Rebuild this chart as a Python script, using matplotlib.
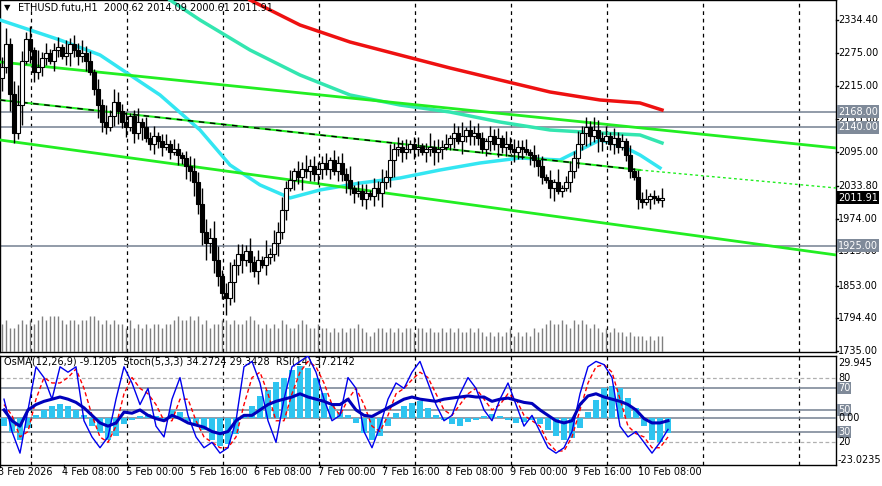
import numpy as np
import matplotlib
matplotlib.use("Agg")
import matplotlib.pyplot as plt
from matplotlib.patches import Rectangle

W, H = 882, 486
# ---------------- data ----------------
closes = [2250,2290,2200,2130,2180,2260,2300,2280,2240,2250,
          2265,2275,2260,2280,2285,2270,2275,2290,2280,2270,
          2275,2260,2240,2210,2180,2150,2140,2160,2185,2170,
          2150,2140,2160,2130,2150,2140,2120,2110,2125,2115,
          2105,2110,2095,2100,2090,2085,2070,2060,2040,2000,
          1950,1930,1940,1900,1870,1840,1830,1860,1890,1910,
          1900,1915,1895,1880,1900,1890,1905,1910,1930,1950,
          1990,2030,2045,2060,2050,2065,2060,2070,2055,2065,
          2075,2065,2080,2060,2075,2055,2045,2030,2020,2025,
          2010,2020,2015,2030,2020,2040,2050,2080,2100,2105,
          2095,2100,2110,2100,2105,2095,2100,2105,2095,2100,
          2105,2110,2120,2130,2115,2125,2135,2125,2130,2120,
          2100,2115,2125,2110,2120,2105,2110,2100,2095,2105,
          2100,2095,2090,2080,2070,2050,2045,2030,2040,2025,
          2030,2040,2060,2085,2110,2130,2140,2125,2135,2120,
          2115,2125,2110,2120,2105,2115,2090,2060,2050,2010,
          2005,2010,2015,2012,2008,2011.91]
first_open = 2230
wick_up = "3524632415231231423242313252432312413231231321234354354236233242315243423132423223132324132313242523231231242323132413232132314232231323131412324232432313221312231213"
wick_dn = "4253261432321321342323124321342313241232312132434345343252634232413224231324232332313242312313242352321321324331231423321232423132313232134121323243243123212213213212"
volume = "7866787878989998788788998787877686767677677898898978677887877898767676876678766766565656676545665656566566565565656556565454545645454656787787687876765656554544434344"

# moving averages (bar index, price)
ma200_x = [62.5,75,87.5,100,112.5,125,137.5,150,160,165.5]
ma200_y = [2370.6,2325.3,2294.5,2270.9,2247.4,2225.6,2203.9,2189.4,2184.0,2171.3]
ma144_x = [42.5,50,62.5,75,87.5,100,112.5,125,137.5,150,160,165.5]
ma144_y = [2370.6,2334.4,2280.0,2234.7,2198.5,2180.3,2167.6,2149.5,2135.0,2129.6,2126.0,2111.5]
ma50_x = [0,7.5,15,25,32.5,40,50,57.5,65,72.5,80,90,100,110,120,130,140,145,150,155,160,165]
ma50_y = [2334.4,2316.3,2298.2,2271.0,2234.7,2198.5,2135.0,2071.6,2035.4,2011.8,2026.3,2038.9,
          2048.0,2062.5,2075.2,2084.3,2080.6,2098.8,2116.9,2107.9,2089.7,2066.2]
# channel lines (bar index, price)
ch_top_x, ch_top_y = [0, 209], [2258.3, 2102.4]
ch_mid_x, ch_mid_y = [0, 160], [2189.4, 2062.5]
ch_ext_x, ch_ext_y = [160, 209], [2062.5, 2029.9]
ch_bot_x, ch_bot_y = [0, 209], [2116.9, 1908.5]
levels = [2168.00, 2140.00, 1925.00]
last_price = 2011.91
price_ticks = [2334.40, 2275.00, 2215.00, 2155.00, 2095.00, 2033.80, 1974.00, 1915.00, 1853.00, 1794.40, 1735.00]

osma = [-4.4,-7.7,-12.1,-5.5,1.7,4.4,6.6,7.7,6.6,4.4,1.7,-4.4,-8.3,-12.1,-9.9,-3.3,-1.1,1.1,2.2,1.1,
        -1.1,4.4,3.3,-1.7,-3.3,-6.6,-12.1,-15.4,-14.3,-8.8,1.1,6.6,12.1,15.4,19.8,22.0,26.4,28.6,27.5,22.0,
        13.8,6.6,3.3,1.7,-2.8,-8.3,-12.1,-9.9,-4.4,2.8,6.6,8.3,9.4,5.5,1.7,-1.1,-3.3,-4.4,-2.2,-1.1,
        1.1,2.2,1.1,-1.1,-2.8,-2.2,-1.1,-3.3,-6.6,-9.9,-12.1,-11.0,-5.5,3.3,9.9,16.5,17.6,16.5,11.0,5.5,
        -4.4,-12.1,-13.2,-8.3]
stoch_main = [60,30,10,50,90,80,60,90,85,90,40,25,15,25,60,90,75,55,70,35,25,60,80,45,25,15,20,10,15,40,
              90,95,75,40,20,60,90,95,100,85,60,40,45,80,70,30,15,35,60,75,70,85,95,75,55,40,45,65,80,70,
              50,40,60,75,55,35,45,30,15,10,15,30,65,90,95,92,80,35,25,30,20,10,20,32]
stoch_sig = [55,45,25,30,60,80,75,75,80,88,70,45,25,20,35,65,80,70,65,55,40,40,60,60,40,25,20,15,15,25,
             55,80,85,65,40,40,65,85,95,90,75,55,45,60,70,55,35,30,45,65,70,78,85,80,65,50,45,55,65,70,
             60,50,55,65,60,45,40,35,20,12,12,25,50,75,90,92,85,60,35,28,25,15,15,25]
rsi = [50,40,35,50,55,58,60,62,60,57,52,45,38,35,38,48,47,50,45,42,40,45,42,38,36,34,30,28,30,40,
       45,45,50,55,58,60,62,65,62,60,58,55,55,60,50,45,44,48,52,56,60,62,60,59,58,60,61,62,63,62,
       62,58,60,61,59,57,56,50,45,40,38,40,55,63,65,62,60,58,55,50,42,38,38,40]

date_labels = ["3 Feb 2026","4 Feb 08:00","5 Feb 00:00","5 Feb 16:00","6 Feb 08:00","7 Feb 00:00",
               "7 Feb 16:00","8 Feb 08:00","9 Feb 00:00","9 Feb 16:00","10 Feb 08:00"]
date_pos = [-0.5,15.5,31.5,47.5,63.5,79.5,95.5,111.5,127.5,143.5,159.5]
day_lines = [7.75,31.75,55.75,79.75,103.75,127.75,151.75,175.75,199.75]

# ---------------- figure ----------------
fig = plt.figure(figsize=(W/100, H/100), dpi=100)
fig.patch.set_facecolor("white")
plt.rcParams['font.family'] = ['DejaVu Sans']
R = 836
def fx(px): return px / W
def fy(py): return 1 - py / H

ax = fig.add_axes([0, fy(352), fx(R), fy(0) - fy(352)])
ax2 = fig.add_axes([0, fy(465), fx(R), fy(356) - fy(465)])
XMAX = R / 4
for a in (ax, ax2):
    a.set_xlim(0, XMAX)
    a.set_xticks([]); a.set_yticks([])
    for s in a.spines.values():
        s.set_color("black"); s.set_linewidth(1)
    for d in day_lines:
        a.axvline(d, color="black", ls=(0, (3, 3)), lw=0.9, zorder=1)

ax.set_ylim(1732.6, 2370.65)
n = len(closes)
# volume
axv = ax.twinx(); axv.set_ylim(0, 88); axv.set_yticks([]); axv.set_xlim(0, XMAX)
axv.vlines(np.arange(n) + 0.5, 0, [int(volume[i % len(volume)]) for i in range(n)],
           color="#808080", lw=1)
for s in axv.spines.values(): s.set_visible(False)

opens = [first_open] + closes[:-1]
for i in range(n):
    o, c = opens[i], closes[i]
    hi = max(o, c) + int(wick_up[i % len(wick_up)]) * 6
    lo = min(o, c) - int(wick_dn[i % len(wick_dn)]) * 6
    xc = i + 0.5
    ax.vlines(xc, lo, hi, color="black", lw=1, zorder=4)
    bull = c >= o
    ax.add_patch(Rectangle((xc - 0.38, min(o, c)), 0.76, max(abs(c - o), 1.5),
                           facecolor="white" if bull else "black", edgecolor="black",
                           lw=0.8, zorder=5))

for lv in levels:
    ax.axhline(lv, color="#7f8a99", lw=1.2, zorder=2)
ax.plot(ma200_x, ma200_y, color="#ee1111", lw=2.5, zorder=3)
ax.plot(ma144_x, ma144_y, color="#33e6b0", lw=2.5, zorder=3)
ax.plot(ma50_x, ma50_y, color="#33e6f2", lw=2.5, zorder=3)
ax.plot(ch_top_x, ch_top_y, color="#22ee22", lw=2, zorder=3)
ax.plot(ch_bot_x, ch_bot_y, color="#22ee22", lw=2, zorder=3)
ax.plot(ch_mid_x, ch_mid_y, color="#22ee22", lw=1.5, zorder=3)
ax.plot(ch_mid_x, ch_mid_y, color="black", lw=1, ls=(0, (4, 4)), zorder=3)
ax.plot(ch_ext_x, ch_ext_y, color="#22ee22", lw=1, ls=(0, (2, 2)), zorder=3)

# right price axis labels
for p in price_ticks:
    ax.text(XMAX + 0.5, p, f"{p:.2f}", fontsize=7, va="center", ha="left", color="black",
            clip_on=False)
    ax.plot([XMAX, XMAX + 0.6], [p, p], color="black", lw=1, clip_on=False)
for lv in levels:
    ax.text(XMAX + 0.5, lv, f"{lv:.2f}", fontsize=7, va="center", ha="left", color="white",
            clip_on=False, bbox=dict(boxstyle="square,pad=0.15", fc="#7f8a99", ec="none"))
ax.text(XMAX + 0.5, last_price, f"{last_price:.2f}", fontsize=7, va="center", ha="left",
        color="white", clip_on=False, bbox=dict(boxstyle="square,pad=0.15", fc="black", ec="none"))
ax.text(4.5, 2370.65 - 8 * 1.8125, "ETHUSD.futu,H1  2000.62 2014.09 2000.61 2011.91",
        fontsize=7, va="center", ha="left")
ax.text(1.0, 2370.65 - 8 * 1.8125, "▼", fontsize=6, va="center", ha="left")

# ---------------- lower panel ----------------
ax2.set_ylim(-1, 100)
axo = ax2.twinx(); axo.set_ylim((-1 - 42.6) / 1.694, (100 - 42.6) / 1.694)
axo.set_yticks([]); axo.set_xlim(0, XMAX)
for s in axo.spines.values(): s.set_visible(False)
xo = np.arange(len(osma)) * 2 + 1
axo.bar(xo, osma, width=1.6, color="#2ec4f0", zorder=2)
axo.axhline(0, color="#7f8a99", lw=1.2, zorder=1)
for lv in (70, 50, 30):
    ax2.axhline(lv, color="#7f8a99", lw=1.2, zorder=1)
for lv in (80, 20):
    ax2.axhline(lv, color="#b0b0b0", lw=0.9, ls=(0, (3, 2)), zorder=1)
xs = np.arange(len(stoch_main)) * 2 + 1
axo.plot(xs, (np.array(stoch_sig) - 42.6) / 1.694, color="red", lw=1, ls=(0, (3, 2)), zorder=3)
axo.plot(xs, (np.array(stoch_main) - 42.6) / 1.694, color="#0000ee", lw=1, zorder=3)
axo.plot(xs, (np.array(rsi) - 42.6) / 1.694, color="#0000bb", lw=2.2, zorder=4)

ax2.text(1, 95, "OsMA(12,26,9) -9.1205  Stoch(5,3,3) 34.2724 29.3428  RSI(14) 37.2142",
         fontsize=7, va="center", ha="left", zorder=6)
def lbl(yv, t, box=False):
    ax2.text(XMAX + 0.5, yv, t, fontsize=7, va="center", ha="left", clip_on=False,
             color="white" if box else "black",
             bbox=dict(boxstyle="square,pad=0.1", fc="#7f8a99", ec="none") if box else None)
lbl(93.5, "29.945"); lbl(80, "80"); lbl(70, "70", True); lbl(50, "50", True)
lbl(42.6, "0.00"); lbl(30, "30", True); lbl(20, "20"); lbl(4, "-23.0235")

for t, p in zip(date_labels, date_pos):
    ax2.text(p, -3, t, fontsize=7, va="top", ha="left", clip_on=False)
    ax2.plot([p + 0.5, p + 0.5], [-1, -3], color="black", lw=1, clip_on=False)

fig.savefig("out.png", dpi=100, facecolor="white")
